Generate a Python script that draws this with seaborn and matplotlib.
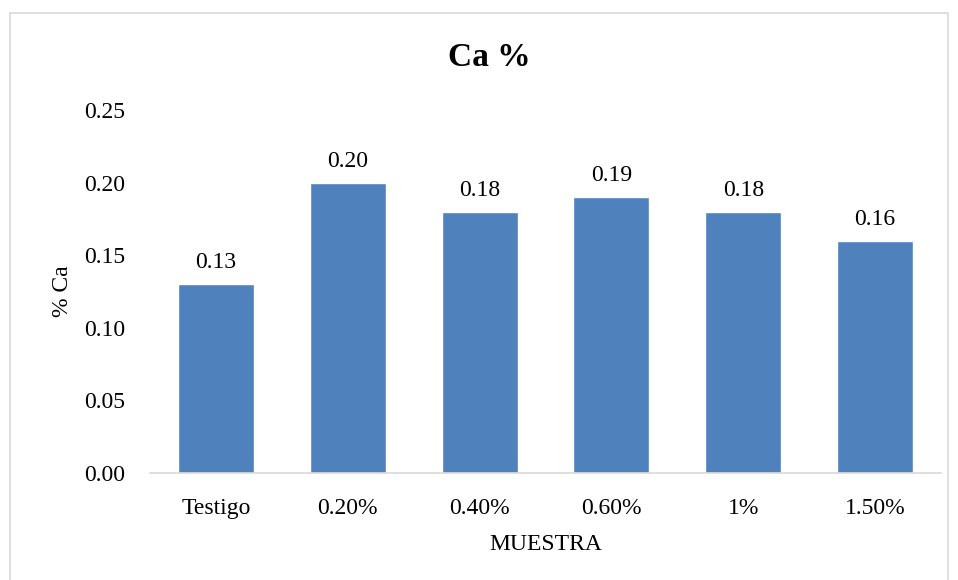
import matplotlib
matplotlib.use("Agg")
import matplotlib.pyplot as plt
import seaborn as sns
import pandas as pd
from matplotlib.patches import Rectangle

# Calcium content per sample
muestras = ["Testigo", "0.20%", "0.40%", "0.60%", "1%", "1.50%"]
calcio = [0.13, 0.20, 0.18, 0.19, 0.18, 0.16]
y_ticks = [0.00, 0.05, 0.10, 0.15, 0.20, 0.25]

df = pd.DataFrame({"MUESTRA": muestras, "Ca": calcio})

sns.set_theme(style="white")
plt.rcParams["font.family"] = ["Liberation Serif", "DejaVu Serif"]
plt.rcParams["text.color"] = "black"
plt.rcParams["axes.labelcolor"] = "black"
plt.rcParams["xtick.color"] = "black"
plt.rcParams["ytick.color"] = "black"

FS = 17
W, H = 958, 580
fig = plt.figure(figsize=(W / 100, H / 100), dpi=100)
ax = fig.add_axes([150 / W, 1 - 473 / H, (941 - 150) / W, (473 - 110) / H])

sns.barplot(data=df, x="MUESTRA", y="Ca", color="#4F81BD", saturation=1,
            width=0.576, ax=ax)

ax.set_ylim(0, 0.25)
ax.set_xlim(-0.5, len(muestras) - 0.5)
ax.set_yticks(y_ticks)
ax.set_yticklabels([f"{v:.2f}" for v in y_ticks], fontsize=FS)
ax.tick_params(axis="x", labelsize=FS, length=0, pad=18)
ax.tick_params(axis="y", length=0, pad=18)

for s in ["top", "right", "left"]:
    ax.spines[s].set_visible(False)
ax.spines["bottom"].set_color("#D9D9D9")
ax.spines["bottom"].set_linewidth(1.2)

for i, v in enumerate(calcio):
    ax.text(i, v + 0.011, f"{v:.2f}", ha="center", va="baseline", fontsize=FS)

ax.set_xlabel("MUESTRA", fontsize=FS, labelpad=11)
ax.set_ylabel("% Ca", fontsize=FS, labelpad=8)

fig.text(489 / W, 1 - 57 / H, "Ca %", ha="center", va="center",
         fontsize=24, fontweight="bold")

# Chart frame
fig.patches.append(Rectangle((10 / W, -0.05), (948 - 10) / W, (1 - 13 / H) + 0.05,
                             transform=fig.transFigure, fill=False,
                             edgecolor="#D9D9D9", linewidth=1.2))

fig.savefig("out.png", dpi=100)
